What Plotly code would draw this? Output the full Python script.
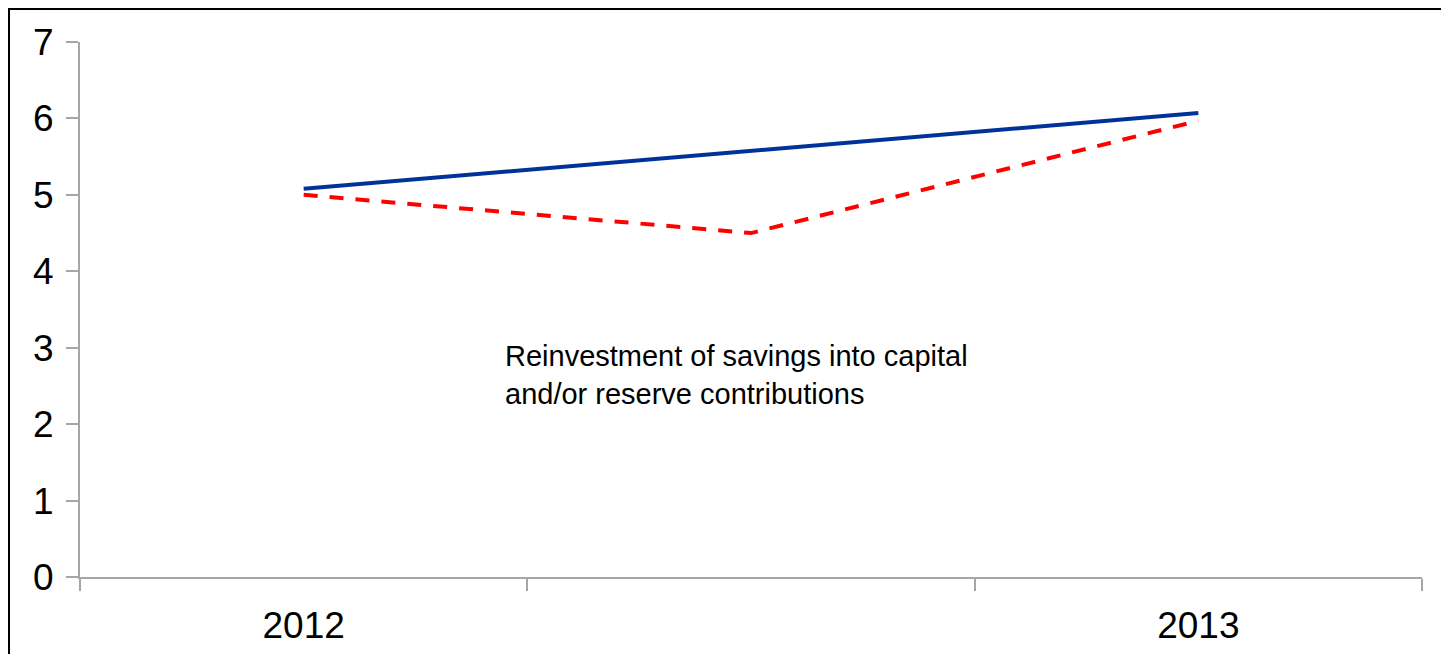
import plotly.graph_objects as go

# categories on the x axis (middle one has no label in the original)
periods = ["2012", "mid", "2013"]
period_labels = ["2012", "", "2013"]

# series values
series_blue = [5.08, None, 6.07]
series_red = [5.0, 4.5, 5.97]

y_ticks = [0, 1, 2, 3, 4, 5, 6, 7]

note = "Reinvestment of savings into capital<br>and/or reserve contributions"

fig = go.Figure()

fig.add_trace(go.Scatter(
    x=periods, y=series_blue,
    mode="lines", connectgaps=True,
    line=dict(color="#003399", width=4),
    hoverinfo="skip",
))
fig.add_trace(go.Scatter(
    x=periods, y=series_red,
    mode="lines",
    line=dict(color="#ff0000", width=4, dash="14px,12px"),
    hoverinfo="skip",
))

# page body has an 8px margin, so the figure is a bit smaller than the window
fig.update_layout(
    width=1441, height=646, autosize=False,
    margin=dict(l=72, r=27, t=34, b=77),
    paper_bgcolor="white", plot_bgcolor="white",
    showlegend=False,
    font=dict(family="Liberation Sans, Arial, sans-serif", color="black"),
    xaxis=dict(
        type="category",
        tickmode="array", tickvals=periods, ticktext=period_labels,
        tickson="boundaries",
        ticks="outside", ticklen=12, tickcolor="#a6a6a6", tickwidth=2,
        showline=True, linecolor="#a6a6a6", linewidth=2,
        showgrid=False, zeroline=False,
        tickfont=dict(size=37),
        ticklabelstandoff=15,
        range=[-0.5, 2.5],
        automargin=False,
    ),
    yaxis=dict(
        range=[0, 7],
        tickmode="array", tickvals=y_ticks,
        ticks="outside", ticklen=12, tickcolor="#a6a6a6", tickwidth=2,
        showline=True, linecolor="#a6a6a6", linewidth=2,
        showgrid=False, zeroline=False,
        tickfont=dict(size=37),
        ticklabelstandoff=5,
        automargin=False,
    ),
    annotations=[dict(
        text=note, xref="paper", yref="y",
        x=0.315, y=3.13, xanchor="left", yanchor="top",
        align="left", showarrow=False,
        font=dict(size=29, color="black"),
    )],
    shapes=[dict(
        type="rect", xref="paper", yref="paper",
        x0=-0.0529, x1=1.03, y0=-0.2, y1=1.0617,
        line=dict(color="black", width=2), layer="below",
    )],
)

fig.write_html("out.html")
